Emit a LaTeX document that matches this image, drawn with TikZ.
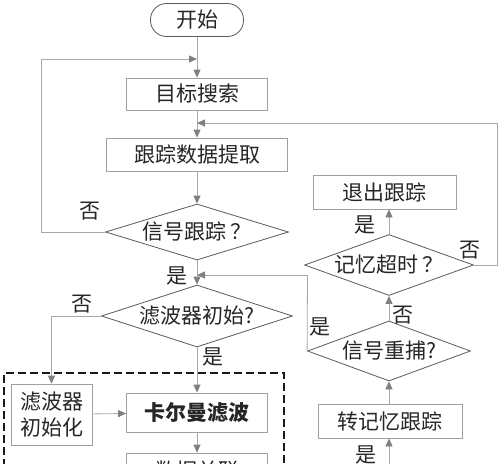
\documentclass[tikz,border=0pt]{standalone}
\usepackage{fontspec}
\newfontfamily\cjk{Noto Sans CJK SC}
\usetikzlibrary{shapes.geometric,arrows.meta}
\definecolor{lineg}{HTML}{A8A8A8}
\definecolor{boxg}{HTML}{A0A0A0}
\definecolor{diag}{HTML}{5A5A5A}
\definecolor{tipg}{HTML}{808080}
\definecolor{txt}{HTML}{262626}
\begin{document}
\begin{tikzpicture}[x=1pt,y=-1pt,
  every node/.style={font=\cjk\fontsize{21}{26}\selectfont, text=txt, inner sep=0pt},
  box/.style={draw=boxg, line width=0.8pt, rectangle},
  term/.style={draw=diag, line width=0.8pt, rectangle, rounded corners=16pt},
  dia/.style={draw=diag, line width=0.8pt, diamond, aspect=1},
  arr/.style={draw=lineg, line width=0.8pt, -{Triangle[length=8pt,width=7pt,color=tipg]}},
  plain/.style={draw=lineg, line width=0.8pt},
  grp/.style={draw=black!90, line width=1.5pt, dash pattern=on 8pt off 4pt, rectangle, anchor=north west}
]
\fill[white] (0,0) rectangle (500,463);
\useasboundingbox (0,0) rectangle (500,463);
\clip (0,0) rectangle (500,463);

% main column
\node[term, minimum width=93pt, minimum height=33pt] (start) at (197,20) {开始};
\node[box, minimum width=141pt, minimum height=32pt] (search) at (197,94) {目标搜索};
\node[box, minimum width=181pt, minimum height=33pt] (extract) at (197,154.5) {跟踪数据提取};
\node[dia, minimum width=183pt, minimum height=56pt] (d1) at (197,232) {\makebox[0pt]{信号跟踪 ？}};
\node[dia, minimum width=191pt, minimum height=62pt] (d2) at (197,316) {\makebox[0pt]{滤波器初始?}};

% dashed group
\node[grp, minimum width=280pt, minimum height=110pt] (grp) at (3,372) {};
\node[box, minimum width=81pt, minimum height=61pt, align=center] (init) at (51.5,414.5) {滤波器\\初始化};
\node[box, minimum width=141pt, minimum height=39pt] (kal) at (197,412.5) {\bfseries 卡尔曼滤波};
\node[box, minimum width=141pt, minimum height=36pt] (assoc) at (197,471) {数据关联};

% right column
\node[box, minimum width=143pt, minimum height=34pt] (quit) at (384.5,192) {退出跟踪};
\node[dia, minimum width=169pt, minimum height=61pt] (d3) at (389,265) {\makebox[0pt]{记忆超时 ？}};
\node[dia, minimum width=163pt, minimum height=60pt] (d4) at (389,351) {\makebox[0pt]{信号重捕?}};
\node[box, minimum width=144pt, minimum height=34pt] (mem) at (390,421) {转记忆跟踪};

% coordinates
\coordinate (j1) at (197,59);
\coordinate (c1) at (41,59);
\coordinate (j2) at (197,123);
\coordinate (c2) at (497,123);
\coordinate (j3) at (197,275);
\coordinate (c3) at (307.5,275);
\coordinate (b1) at (389,470);

% connectors
\draw[arr] (start) -- (search);
\draw[arr] (search) -- (extract);
\draw[arr] (extract) -- (d1);
\draw[arr] (d1) -- (d2);
\draw[arr] (d2) -- (kal);
\draw[arr] (kal) -- (assoc);
\draw[arr] (init) -- (kal);
\draw[arr] (d2.west) -| (init.north);
\draw[plain] (d1.west) -| (c1);
\draw[arr] (c1) -- (j1);
\draw[plain] (d3.east) -| (c2);
\draw[arr] (c2) -- (j2);
\draw[plain] (d4.west) -- (c3);
\draw[arr] (c3) -- (j3);
\draw[arr] (d3.north) -- (d3.north |- quit.south);
\draw[arr] (d4.north) -- (d3.south);
\draw[arr] (mem.north -| d4.south) -- (d4.south);
\draw[arr] (b1) -- (b1 |- mem.south);

% labels
\node (n1) at (90,211) {否};
\node (y1) at (177,276) {是};
\node (n2) at (82,304) {否};
\node (y2) at (213,357) {是};
\node (y3) at (365,225) {是};
\node (n3) at (470,250) {否};
\node (n4) at (403,315) {否};
\node (y4) at (320,327) {是};
\node (y5) at (366,455) {是};
\end{tikzpicture}
\end{document}
